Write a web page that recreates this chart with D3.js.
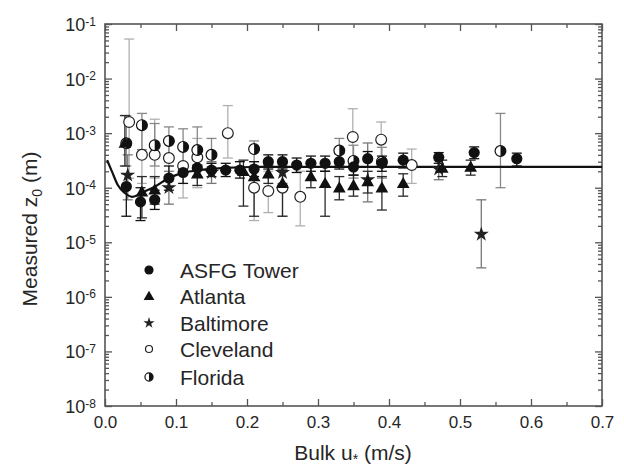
<!DOCTYPE html>
<html>
<head>
<meta charset="utf-8">
<script src="https://cdn.jsdelivr.net/npm/d3@7/dist/d3.min.js"></script>
<style>
html,body{margin:0;padding:0;background:#fff;}
svg{display:block;font-family:"Liberation Sans",Arial,Helvetica,sans-serif;}
</style>
</head>
<body>
<svg id="chart" width="624" height="466"></svg>
<script>
// ---------------- data ----------------
const xMajor = [0.0,0.1,0.2,0.3,0.4,0.5,0.6,0.7];
const xMinor = [0.05,0.15,0.25,0.35,0.45,0.55,0.65];
const yExponents = [-8,-7,-6,-5,-4,-3,-2,-1];

// fitted curve
const fitU = [0.003,0.01,0.018,0.028,0.038,0.047,0.055,0.07,0.09,0.11,0.135,0.17,0.22,0.7];
const fitZ = [3.2e-4,1.95e-4,1.12e-4,8.0e-5,6.8e-5,7.4e-5,8.4e-5,1.04e-4,1.51e-4,1.87e-4,2.12e-4,2.31e-4,2.4e-4,2.4e-4];

// ASFG Tower
const asfgU  = [0.03,0.05,0.07,0.09,0.11,0.13,0.15,0.17,0.19,0.21,0.23,0.25,0.27,0.29,0.31,0.33,0.35,0.37,0.39,0.42,0.47,0.52,0.58];
const asfgZ  = [1.05e-4,5.5e-5,6.0e-5,1.5e-4,1.9e-4,2.3e-4,2.1e-4,2.1e-4,2.1e-4,2.2e-4,3.0e-4,3.0e-4,2.6e-4,2.8e-4,2.8e-4,3.0e-4,2.4e-4,3.4e-4,2.8e-4,3.2e-4,3.6e-4,4.4e-4,3.4e-4];
const asfgLo = [3.0e-5,2.5e-5,4.0e-5,9.0e-5,1.2e-4,1.6e-4,1.6e-4,1.6e-4,1.5e-4,1.6e-4,2.2e-4,2.2e-4,1.9e-4,2.0e-4,2.0e-4,2.2e-4,1.7e-4,2.4e-4,2.0e-4,2.3e-4,2.8e-4,3.4e-4,2.5e-4];
const asfgHi = [1.8e-4,1.0e-4,9.0e-5,2.5e-4,2.8e-4,3.3e-4,2.8e-4,2.8e-4,3.0e-4,3.0e-4,4.0e-4,4.0e-4,3.5e-4,3.8e-4,3.8e-4,4.2e-4,3.4e-4,4.6e-4,3.8e-4,4.3e-4,4.4e-4,5.6e-4,4.3e-4];

// Atlanta
const atlU  = [0.028,0.052,0.07,0.13,0.195,0.21,0.23,0.25,0.29,0.31,0.33,0.35,0.37,0.39,0.42,0.475,0.515];
const atlZ  = [6.6e-4,8.4e-5,9.1e-5,1.8e-4,2.0e-4,1.6e-4,1.8e-4,1.2e-4,1.6e-4,1.2e-4,1.0e-4,1.1e-4,1.3e-4,1.0e-4,1.2e-4,2.3e-4,2.4e-4];
const atlLo = [2.5e-4,2.8e-5,5.0e-5,1.1e-4,4.6e-5,3.0e-5,1.2e-4,3.0e-5,1.0e-4,3.0e-5,6.0e-5,7.0e-5,8.0e-5,3.9e-5,7.0e-5,1.6e-4,1.7e-4];
const atlHi = [2.1e-3,1.6e-4,1.6e-4,2.6e-4,3.2e-4,2.3e-4,2.6e-4,2.0e-4,2.4e-4,2.0e-4,1.6e-4,1.7e-4,2.0e-4,1.6e-4,1.8e-4,3.2e-4,3.2e-4];

// Baltimore
const balU  = [0.032,0.09,0.15,0.25,0.37,0.47,0.53];
const balZ  = [1.7e-4,1.0e-4,1.9e-4,1.9e-4,1.4e-4,2.2e-4,1.4e-5];
const balLo = [6.0e-5,5.0e-5,1.2e-4,1.2e-4,5.5e-5,1.4e-4,3.4e-6];
const balHi = [4.0e-4,2.0e-4,3.0e-4,3.0e-4,6.6e-4,3.2e-4,6.0e-5];

// Cleveland
const cleU  = [0.034,0.052,0.07,0.09,0.11,0.13,0.173,0.21,0.23,0.25,0.275,0.349,0.389,0.432];
const cleZ  = [1.6e-3,4.0e-4,4.0e-4,3.5e-4,2.5e-4,3.6e-4,1.0e-3,1.0e-4,8.7e-5,1.0e-4,6.8e-5,8.5e-4,7.6e-4,2.6e-4];
const cleLo = [1.5e-4,1.2e-4,1.5e-4,1.3e-4,6.5e-5,1.0e-4,3.5e-4,2.5e-5,3.5e-5,3.0e-5,2.0e-5,3.0e-4,2.5e-4,1.2e-4];
const cleHi = [5.3e-2,1.3e-3,1.8e-3,8.0e-4,6.0e-4,8.0e-4,3.2e-3,3.0e-4,2.0e-4,2.5e-4,2.0e-4,2.8e-3,1.6e-3,5.1e-4];

// Florida
const floU  = [0.03,0.052,0.07,0.09,0.11,0.13,0.15,0.21,0.33,0.35,0.39,0.557];
const floZ  = [6.5e-4,1.4e-3,6.0e-4,7.2e-4,5.6e-4,4.9e-4,4.0e-4,5.1e-4,4.8e-4,3.1e-4,3.0e-4,4.7e-4];
const floLo = [2.5e-4,5.0e-4,2.5e-4,3.0e-4,2.5e-4,2.5e-4,2.0e-4,2.5e-4,2.5e-4,1.5e-4,1.5e-4,1.0e-4];
const floHi = [2.1e-3,2.3e-3,1.5e-3,1.3e-3,1.2e-3,1.3e-3,8.0e-4,7.2e-4,8.0e-4,6.0e-4,5.5e-4,2.3e-3];

const seriesNames = ["ASFG Tower","Atlanta","Baltimore","Cleveland","Florida"];

// ---------------- chart ----------------
const svg = d3.select("#chart");
const X0 = 105, X1 = 602, Y0 = 24, Y1 = 406;
const x = d3.scaleLinear().domain([0,0.7]).range([X0,X1]);
const y = d3.scaleLog().domain([1e-8,1e-1]).range([Y1,Y0]);

const textCol = "#262626";
const axisCol = "#555";

const yMajor = yExponents.map(e => Math.pow(10,e));
const yMinor = [];
for (let e=-8; e<-1; e++) for (let m=2; m<=9; m++) yMinor.push(m*Math.pow(10,e));

function styleAxis(g){
  g.select(".domain").remove();
  g.selectAll(".tick line").attr("stroke",axisCol).attr("stroke-width",1.3);
}

// bottom
svg.append("g").attr("transform",`translate(0,${Y1})`)
  .call(d3.axisBottom(x).tickValues(xMajor).tickSize(-7).tickPadding(10).tickFormat(d3.format(".1f")))
  .call(styleAxis)
  .call(g=>g.selectAll("text").attr("font-size",17).attr("fill",textCol).attr("font-family","Liberation Sans, Arial, sans-serif"));
svg.append("g").attr("transform",`translate(0,${Y1})`)
  .call(d3.axisBottom(x).tickValues(xMinor).tickSize(-4).tickFormat(""))
  .call(styleAxis);
// top
svg.append("g").attr("transform",`translate(0,${Y0})`)
  .call(d3.axisTop(x).tickValues(xMajor).tickSize(-7).tickFormat(""))
  .call(styleAxis);
svg.append("g").attr("transform",`translate(0,${Y0})`)
  .call(d3.axisTop(x).tickValues(xMinor).tickSize(-4).tickFormat(""))
  .call(styleAxis);
// left
const leftAx = svg.append("g").attr("transform",`translate(${X0},0)`)
  .call(d3.axisLeft(y).tickValues(yMajor).tickSize(-7).tickPadding(9).tickFormat(d=>""))
  .call(styleAxis);
leftAx.selectAll(".tick text").each(function(d){
  const t = d3.select(this);
  t.attr("font-size",18).attr("fill",textCol).attr("font-family","Liberation Sans, Arial, sans-serif").attr("dy","0.36em");
  t.text("10");
  t.append("tspan").attr("font-size",12).attr("dy","-0.45em").text(String(Math.round(Math.log10(d))).replace("-","-"));
});
svg.append("g").attr("transform",`translate(${X0},0)`)
  .call(d3.axisLeft(y).tickValues(yMinor).tickSize(-4).tickFormat(""))
  .call(styleAxis);
// right
svg.append("g").attr("transform",`translate(${X1},0)`)
  .call(d3.axisRight(y).tickValues(yMajor).tickSize(-7).tickFormat(""))
  .call(styleAxis);
svg.append("g").attr("transform",`translate(${X1},0)`)
  .call(d3.axisRight(y).tickValues(yMinor).tickSize(-4).tickFormat(""))
  .call(styleAxis);

// frame
svg.append("rect").attr("x",X0).attr("y",Y0).attr("width",X1-X0).attr("height",Y1-Y0)
  .attr("fill","none").attr("stroke",axisCol).attr("stroke-width",1.6);

// axis titles
const xt = svg.append("text").attr("x",353).attr("y",460).attr("text-anchor","middle")
  .attr("font-size",21).attr("fill",textCol);
xt.append("tspan").text("Bulk u");
xt.append("tspan").attr("font-size",14).attr("dy",4).text("*");
xt.append("tspan").attr("dy",-4).text(" (m/s)");

const yt = svg.append("text").attr("transform","translate(37,229) rotate(-90)").attr("text-anchor","middle")
  .attr("font-size",21).attr("fill",textCol);
yt.append("tspan").text("Measured z");
yt.append("tspan").attr("font-size",14).attr("dy",5).text("0");
yt.append("tspan").attr("dy",-5).text(" (m)");

// build series
function mk(u,z,lo,hi){ return u.map((d,i)=>({u:d,z:z[i],lo:lo[i],hi:hi[i]})); }
const series = [
  {name:seriesNames[0], key:"circle", bar:"#111", data:mk(asfgU,asfgZ,asfgLo,asfgHi)},
  {name:seriesNames[1], key:"triangle", bar:"#2a2a2a", data:mk(atlU,atlZ,atlLo,atlHi)},
  {name:seriesNames[2], key:"star", bar:"#777", data:mk(balU,balZ,balLo,balHi)},
  {name:seriesNames[3], key:"open", bar:"#b0b0b0", data:mk(cleU,cleZ,cleLo,cleHi)},
  {name:seriesNames[4], key:"half", bar:"#888", data:mk(floU,floZ,floLo,floHi)}
];

// error bars
const barOrder = [3,4,2,1,0];
const ebG = svg.append("g");
barOrder.forEach(si=>{
  const s = series[si];
  const g = ebG.append("g").attr("stroke",s.bar).attr("stroke-width",1.3).attr("fill","none");
  s.data.forEach(d=>{
    const cx = x(d.u);
    g.append("line").attr("x1",cx).attr("x2",cx).attr("y1",y(d.lo)).attr("y2",y(d.hi));
    g.append("line").attr("x1",cx-5).attr("x2",cx+5).attr("y1",y(d.lo)).attr("y2",y(d.lo));
    g.append("line").attr("x1",cx-5).attr("x2",cx+5).attr("y1",y(d.hi)).attr("y2",y(d.hi));
  });
});

// fit line
const fitData = fitU.map((u,i)=>({u,z:fitZ[i]}));
svg.append("path").datum(fitData)
  .attr("d", d3.line().x(d=>x(d.u)).y(d=>y(d.z)).curve(d3.curveMonotoneX))
  .attr("fill","none").attr("stroke","#111").attr("stroke-width",2.2);

// markers
function drawMarker(g, key, cx, cy, scale){
  const k = scale||1;
  if (key==="circle"){
    g.append("circle").attr("cx",cx).attr("cy",cy).attr("r",5.6*k).attr("fill","#111");
  } else if (key==="triangle"){
    g.append("path").attr("transform",`translate(${cx},${cy+1})`)
      .attr("d",d3.symbol(d3.symbolTriangle, 70*k*k)()).attr("fill","#111");
  } else if (key==="star"){
    g.append("path").attr("transform",`translate(${cx},${cy})`)
      .attr("d",d3.symbol(d3.symbolStar, 70*k*k)()).attr("fill","#222");
  } else if (key==="open"){
    g.append("circle").attr("cx",cx).attr("cy",cy).attr("r",5.4*k).attr("fill","#fff")
      .attr("stroke","#222").attr("stroke-width",1.2);
  } else if (key==="half"){
    const r = 5.4*k;
    g.append("circle").attr("cx",cx).attr("cy",cy).attr("r",r).attr("fill","#fff")
      .attr("stroke","#111").attr("stroke-width",1.2);
    g.append("path").attr("transform",`translate(${cx},${cy})`)
      .attr("d",`M0,${-r} A${r},${r} 0 0 1 0,${r} Z`).attr("fill","#111");
  }
}
const mkG = svg.append("g");
[3,4,2,1,0].forEach(si=>{
  const s = series[si];
  const g = mkG.append("g");
  s.data.forEach(d=>drawMarker(g, s.key, x(d.u), y(d.z), 1));
});

// legend
const legY = [270,296,323,349,377];
const lg = svg.append("g");
const legScale = [0.82,0.85,0.75,0.65,0.75];
series.forEach((s,i)=>{
  drawMarker(lg, s.key, 149, legY[i], legScale[i]);
  lg.append("text").attr("x",180).attr("y",legY[i]+7.5).attr("font-size",21).attr("fill",textCol).text(s.name);
});
</script>
</body>
</html>
